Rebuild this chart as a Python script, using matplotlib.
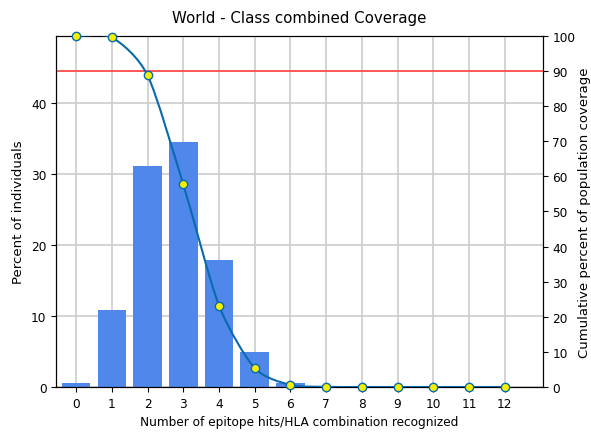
import matplotlib.pyplot as plt
from matplotlib.path import Path
from matplotlib.patches import PathPatch

hits = list(range(13))
percent_individuals = [0.5, 10.8, 31.1, 34.5, 17.9, 4.9, 0.6, 0.05, 0, 0, 0, 0, 0]
cumulative_coverage = [100, 99.6, 88.8, 57.7, 23.2, 5.4, 0.6, 0.05, 0, 0, 0, 0, 0]
coverage_target = 90


def smooth_path(xs, ys, k=8):
    # Catmull-Rom style segments written as cubic Bezier pieces through every point
    verts = [(xs[0], ys[0])]
    codes = [Path.MOVETO]
    n = len(xs)
    for i in range(n - 1):
        x0, y0 = xs[max(i - 1, 0)], ys[max(i - 1, 0)]
        x1, y1 = xs[i], ys[i]
        x2, y2 = xs[i + 1], ys[i + 1]
        x3, y3 = xs[min(i + 2, n - 1)], ys[min(i + 2, n - 1)]
        c1 = (x1 + (x2 - x0) / k, y1 + (y2 - y0) / k)
        c2 = (x2 - (x3 - x1) / k, y2 - (y3 - y1) / k)
        verts += [c1, c2, (x2, y2)]
        codes += [Path.CURVE4] * 3
    return Path(verts, codes)


fig, ax = plt.subplots(figsize=(5.91, 4.35), dpi=100)
fig.subplots_adjust(left=0.095, right=0.918, top=0.915, bottom=0.108)

ax.bar(hits, percent_individuals, width=0.8, color='#4f87ea', zorder=2)
ax.set_xticks(hits)
ax.set_xlim(-0.56, 13.06)
ax.set_ylim(0, 49.4)
ax.set_yticks([0, 10, 20, 30, 40])
ax.grid(True, color='#cccccc', linewidth=1.2, zorder=0)
ax.set_axisbelow(True)
ax.set_xlabel('Number of epitope hits/HLA combination recognized', fontsize=8.7)
ax.set_ylabel('Percent of individuals', fontsize=9.5, labelpad=4)
ax.set_title('World - Class combined Coverage', fontsize=10.8, pad=10)
ax.tick_params(labelsize=8.7)

ax2 = ax.twinx()
ax2.add_patch(PathPatch(smooth_path(hits, cumulative_coverage), facecolor='none',
                        edgecolor='#0a6aad', linewidth=1.5, zorder=3))
ax2.plot(hits, cumulative_coverage, 'o', markersize=6,
         markerfacecolor='#f5f000', markeredgecolor='#0a6aad',
         markeredgewidth=1, zorder=4, clip_on=False)
ax2.axhline(coverage_target, color='#ff4a4a', linewidth=1.3)
ax2.set_ylim(0, 100)
ax2.set_yticks(range(0, 101, 10))
ax2.set_ylabel('Cumulative percent of population coverage', fontsize=9.5, labelpad=2)
ax2.tick_params(labelsize=8.7)

fig.savefig('out.png')
